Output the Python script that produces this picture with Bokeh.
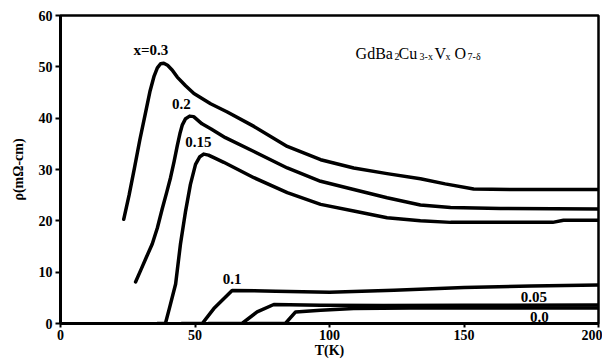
from bokeh.plotting import figure
from bokeh.models import Label, FixedTicker, Range1d
from bokeh.embed import file_html
from bokeh.resources import INLINE

# ---- data ----
T_03 = [23.5, 25.5, 27.5, 29.5, 31.5, 33.3, 34.8, 36.0, 37.2, 38.4, 39.8, 41.5, 43.4, 46.5, 49.6, 55.8, 62.0, 71.9, 84.3, 96.7, 109.0, 121.4, 133.8, 143.0, 153.6, 170.0, 200.0]
R_03 = [20.3, 25.0, 30.3, 35.8, 40.8, 45.3, 48.2, 49.8, 50.6, 50.7, 50.3, 49.4, 48.0, 46.3, 44.8, 42.8, 41.2, 38.4, 34.5, 31.9, 30.3, 29.2, 28.2, 27.2, 26.2, 26.1, 26.1]

T_02 = [27.9, 30.0, 32.0, 34.1, 36.0, 37.8, 39.5, 40.9, 42.2, 43.4, 44.4, 45.3, 46.5, 48.0, 49.5, 52.6, 56.0, 61.3, 71.9, 84.3, 96.7, 109.0, 121.4, 133.8, 145.0, 163.6, 200.0]
R_02 = [8.1, 10.6, 13.0, 15.5, 18.6, 22.3, 25.6, 28.4, 31.5, 34.6, 37.0, 38.7, 39.9, 40.4, 40.3, 38.9, 37.9, 36.2, 33.5, 30.3, 27.7, 26.1, 24.5, 23.1, 22.6, 22.4, 22.3]

T_015 = [36.0, 39.0, 40.5, 42.8, 44.6, 46.5, 48.3, 50.2, 51.8, 53.3, 55.0, 57.0, 60.7, 71.9, 84.3, 96.7, 109.0, 121.4, 133.8, 145.0, 183.0, 187.0, 200.0]
R_015 = [0.0, 0.0, 3.0, 7.7, 15.5, 21.9, 27.1, 31.0, 32.5, 33.0, 32.8, 32.3, 31.4, 28.4, 25.5, 23.2, 21.9, 20.6, 20.0, 19.7, 19.7, 20.1, 20.1]

T_01 = [45.0, 52.7, 57.0, 63.8, 80.0, 100.0, 124.0, 150.0, 175.0, 200.0]
R_01 = [0.0, 0.0, 2.9, 6.45, 6.3, 6.1, 6.5, 7.0, 7.3, 7.5]

T_005 = [55.0, 67.5, 73.1, 79.3, 96.7, 120.0, 150.0, 200.0]
R_005 = [0.0, 0.0, 2.26, 3.7, 3.55, 3.5, 3.55, 3.6]

T_00 = [70.0, 83.6, 87.4, 96.7, 109.0, 130.0, 160.0, 200.0]
R_00 = [0.0, 0.0, 2.26, 2.6, 2.9, 3.0, 3.0, 3.0]

x_ticks = [0, 50, 100, 150, 200]
y_ticks = [0, 10, 20, 30, 40, 50, 60]

curve_labels = ["x=0.3", "0.2", "0.15", "0.1", "0.05", "0.0"]
label_T = [33.6, 44.9, 51.3, 63.8, 176.0, 178.0]
label_R = [53.2, 42.7, 35.3, 8.7, 5.2, 1.3]

SERIF = "Liberation Serif"

p = figure(width=602, height=360, x_range=Range1d(0, 200), y_range=Range1d(0, 60),
           output_backend="svg", toolbar_location=None,
           min_border_left=60, min_border_right=4, min_border_top=15, min_border_bottom=0)
p.background_fill_color = "white"
p.border_fill_color = "white"
p.xgrid.visible = False
p.ygrid.visible = False
p.outline_line_color = "black"
p.outline_line_width = 2.5
p.outline_line_alpha = 1.0

for ax in (p.xaxis, p.yaxis):
    ax.axis_line_width = 3
    ax.axis_line_color = "black"
    ax.major_tick_line_width = 2
    ax.major_tick_line_color = "black"
    ax.major_tick_out = 5
    ax.major_tick_in = 0
    ax.minor_tick_line_color = None
    ax.major_label_standoff = 3
    ax.major_label_text_font = SERIF
    ax.major_label_text_font_style = "bold"
    ax.major_label_text_font_size = "14px"
    ax.major_label_text_color = "black"

p.xaxis.major_tick_out = 4
p.xaxis.major_label_standoff = 2

p.xaxis.ticker = FixedTicker(ticks=x_ticks)
p.yaxis.ticker = FixedTicker(ticks=y_ticks)
p.yaxis.axis_label = "ρ(mΩ-cm)"
p.yaxis.axis_label_text_font = SERIF
p.yaxis.axis_label_text_font_style = "bold"
p.yaxis.axis_label_text_font_size = "14px"
p.yaxis.axis_label_text_color = "black"
p.yaxis.axis_label_standoff = 10

p.xaxis.axis_label = "T(K)"
p.xaxis.axis_label_text_font = SERIF
p.xaxis.axis_label_text_font_style = "bold"
p.xaxis.axis_label_text_font_size = "14px"
p.xaxis.axis_label_text_color = "black"
p.xaxis.axis_label_standoff = 0

for T, R in [(T_03, R_03), (T_02, R_02), (T_015, R_015), (T_01, R_01), (T_005, R_005), (T_00, R_00)]:
    p.line(T, R, line_color="black", line_width=3.5, line_join="round", line_cap="round")

for txt, tx, ty in zip(curve_labels, label_T, label_R):
    p.add_layout(Label(x=tx, y=ty, text=txt, text_font=SERIF, text_font_style="bold",
                       text_font_size="15px", text_align="center", text_baseline="middle",
                       text_color="black"))

# compound formula GdBa2Cu3-xVxO7-δ with subscripts
title_x = 109.7
base_y = 52.6
sub_y = 52.1
parts = [("GdBa", 0, False), ("2", 39, True), ("Cu", 43, False), ("3-x", 64, True),
         ("V", 79, False), ("x", 90, True), ("O", 99, False), ("7-δ", 112, True)]
for txt, off, sub in parts:
    p.add_layout(Label(x=title_x, y=sub_y if sub else base_y, x_offset=off, text=txt,
                       text_font=SERIF, text_font_size="10px" if sub else "16px",
                       text_align="left", text_baseline="alphabetic", text_color="black"))

open("out.html", "w").write(file_html(p, INLINE))
